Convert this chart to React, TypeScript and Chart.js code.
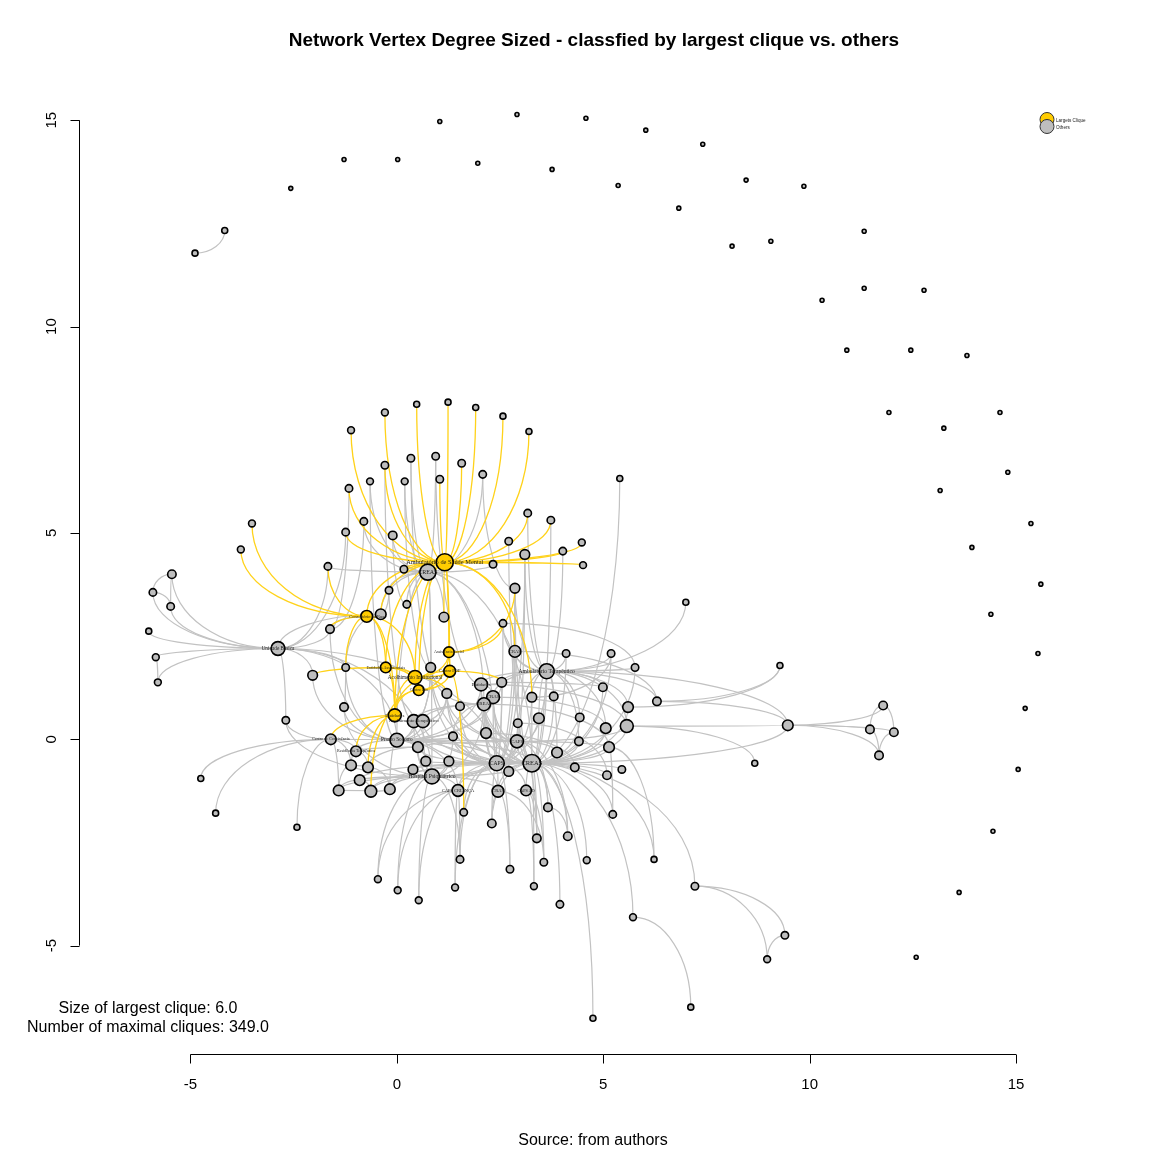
import React, { useEffect, useRef } from 'react'
import Chart, { ChartConfiguration, Plugin } from 'chart.js/auto'

// [id, x, y, degree]
type Vertex = [string, number, number, number]

const cliqueVertices: Vertex[] = [
  ['H1', 1.16, 4.29, 43], ['Y2', -0.73, 2.98, 15], ['Y3', -0.27, 1.74, 11], ['Y4', 0.44, 1.5, 24],
  ['Y5', 0.53, 1.19, 11], ['Y6', 1.26, 2.11, 11], ['Y7', 1.28, 1.65, 15], ['Y8', -0.05, 0.58, 20],
]

const fanVertices: Vertex[] = [
  ['T1', -1.11, 7.49, 2], ['T2', -0.29, 7.92, 2], ['T3', 0.48, 8.12, 1], ['T4', 1.24, 8.17, 1],
  ['T5', 1.91, 8.04, 1], ['T6', 2.57, 7.83, 1], ['T7', 3.2, 7.46, 1], ['T8', -0.29, 6.64, 3],
  ['T9', 0.34, 6.81, 3], ['T10', 0.94, 6.86, 3], ['T11', 1.57, 6.69, 3], ['T12', 2.08, 6.42, 3],
  ['T13', -0.65, 6.25, 2], ['T14', 0.19, 6.25, 2], ['T15', 1.04, 6.3, 3], ['T16', -1.16, 6.08, 3],
  ['T17', -0.8, 5.28, 3], ['T18', -1.24, 5.02, 3], ['T19', -0.1, 4.94, 5], ['T20', -1.67, 4.19, 3],
  ['T21', 0.17, 4.12, 3], ['T22', 2.33, 4.24, 3], ['T23', 3.17, 5.48, 3], ['T24', 3.73, 5.31, 3],
  ['T25', 2.71, 4.8, 3], ['T26', 3.1, 4.48, 8], ['T27', 4.02, 4.56, 3], ['T28', 4.48, 4.77, 2],
  ['T29', 4.51, 4.22, 2], ['T30', 5.4, 6.32, 1], ['L1', -3.51, 5.23, 2], ['L2', -3.78, 4.6, 2],
]

const coreVertices: Vertex[] = [
  ['H2', 0.75, 4.05, 36],
  ['M1', -0.19, 3.61, 3], ['M2', 0.24, 3.27, 3], ['M3', -0.39, 3.03, 11], ['M4', 1.14, 2.96, 8],
  ['M5', 2.57, 2.81, 3], ['M6', 2.86, 2.13, 15], ['M7', 2.86, 3.66, 8], ['M8', 4.1, 2.08, 3],
  ['M9', -1.62, 2.67, 5], ['M10', 0.82, 1.74, 8], ['M11', 3.63, 1.65, 30], ['M12', -1.24, 1.74, 3],
  ['M13', 2.04, 1.33, 20], ['M14', 2.33, 1.02, 20], ['M15', 2.54, 1.38, 8], ['M16', 1.21, 1.11, 8],
  ['M17', 2.11, 0.85, 20], ['M18', 1.53, 0.8, 5], ['M19', 3.27, 1.02, 8], ['M20', 3.8, 1.04, 5],
  ['M21', 4.99, 1.26, 5], ['M22', 5.19, 2.08, 3], ['M23', 5.77, 1.74, 3], ['M24', 6.3, 0.92, 5],
  ['M25', 5.6, 0.78, 11], ['M26', 5.57, 0.32, 20], ['M27', 4.43, 0.53, 5], ['M28', 5.06, 0.27, 11],
  ['M29', 5.14, -0.19, 11], ['M30', 4.41, -0.05, 5], ['M31', 4.31, -0.68, 5], ['M32', 5.45, -0.73, 3],
  ['M33', 5.09, -0.87, 5], ['M34', -1.28, 0.78, 5], ['M35', 0.41, 0.44, 20], ['M36', 0.63, 0.44, 20],
  ['M37', 3.44, 0.51, 11], ['M38', 2.93, 0.39, 5], ['M39', 1.36, 0.07, 5], ['M40', 2.16, 0.15, 11],
  ['M41', -1.6, 0.0, 11], ['M42', 0.0, -0.02, 24], ['M43', 2.91, -0.05, 20], ['M44', 0.51, -0.19, 11],
  ['M45', -0.99, -0.29, 11], ['M46', 3.88, -0.32, 11], ['M47', 2.42, -0.58, 30], ['M48', 3.27, -0.58, 45],
  ['M49', 0.7, -0.53, 8], ['M50', 1.26, -0.53, 8], ['M51', -1.11, -0.63, 11], ['M52', -0.7, -0.68, 11],
  ['M53', 2.71, -0.78, 8], ['M54', 0.39, -0.73, 8], ['M55', 0.85, -0.9, 30], ['M56', -0.9, -0.99, 11],
  ['M57', -1.41, -1.24, 11], ['M58', -0.63, -1.26, 15], ['M59', -0.17, -1.21, 11], ['M60', 1.48, -1.24, 15],
  ['M61', 2.45, -1.26, 15], ['M62', 3.13, -1.24, 11],
]

const bottomVertices: Vertex[] = [
  ['M63', 1.62, -1.77, 3], ['M64', 3.66, -1.65, 5], ['M65', 5.23, -1.82, 3], ['M66', 2.3, -2.04, 5],
  ['M67', 3.39, -2.4, 5], ['M68', 4.14, -2.35, 5], ['M69', 1.53, -2.91, 3], ['M70', 3.56, -2.98, 3],
  ['M71', 4.6, -2.93, 2], ['M72', 6.23, -2.91, 1], ['M73', -0.46, -3.39, 2], ['M74', 2.74, -3.15, 3],
  ['M75', 0.02, -3.66, 2], ['M76', 1.41, -3.59, 2], ['M77', 3.32, -3.56, 2], ['M78', 0.53, -3.9, 2],
  ['M79', 3.95, -4.0, 3], ['M80', 7.22, -3.56, 3], ['M81', 5.72, -4.31, 2], ['M82', 4.75, -6.76, 1],
  ['M83', 7.12, -6.49, 1], ['M84', 9.4, -4.75, 3], ['M85', 8.97, -5.33, 2],
]

const rightVertices: Vertex[] = [
  ['M86', 8.67, -0.58, 1], ['M87', 9.28, 1.79, 1], ['M88', 7.0, 3.32, 1], ['M89', 9.47, 0.34, 11],
  ['M90', 11.78, 0.82, 5], ['M91', 11.46, 0.24, 5], ['M92', 12.04, 0.17, 5], ['M93', 11.68, -0.39, 5],
]

const leftVertices: Vertex[] = [
  ['M94', -5.45, 4.0, 5], ['M95', -5.91, 3.56, 3], ['M96', -5.48, 3.22, 3], ['M97', -6.01, 2.62, 1],
  ['M98', -2.88, 2.2, 24], ['M99', -5.84, 1.99, 2], ['M100', -5.79, 1.38, 2], ['M101', -2.04, 1.55, 8],
  ['M102', -2.69, 0.46, 3], ['M103', -4.75, -0.95, 1], ['M104', -4.39, -1.79, 1], ['M105', -2.42, -2.13, 1],
]

const isolatedVertices: Vertex[] = [
  ['I1', 2.91, 15.14, 0], ['I2', 4.58, 15.05, 0], ['I3', 1.04, 14.97, 0], ['I4', 6.03, 14.76, 0],
  ['I5', 7.41, 14.42, 0], ['I6', -1.28, 14.05, 0], ['I7', 0.02, 14.05, 0], ['I8', 1.96, 13.96, 0],
  ['I9', 3.76, 13.81, 0], ['I10', -2.57, 13.35, 0], ['I11', 5.36, 13.42, 0], ['I12', 8.46, 13.55, 0],
  ['I13', 9.86, 13.4, 0], ['I14', 6.83, 12.87, 0], ['I15', 8.12, 11.95, 0], ['I16', 9.06, 12.07, 0],
  ['I17', 11.32, 12.31, 0], ['I18', 10.3, 10.64, 0], ['I19', 11.32, 10.93, 0], ['I20', 12.77, 10.88, 0],
  ['I21', 10.9, 9.43, 0], ['I22', 12.45, 9.43, 0], ['I23', 13.81, 9.3, 0], ['I24', 11.92, 7.92, 0],
  ['I25', 14.61, 7.92, 0], ['I26', 13.25, 7.54, 0], ['I27', 14.8, 6.47, 0], ['I28', 13.16, 6.03, 0],
  ['I29', 15.36, 5.23, 0], ['I30', 13.93, 4.65, 0], ['I31', 15.6, 3.76, 0], ['I32', 14.39, 3.03, 0],
  ['I33', 15.53, 2.08, 0], ['I34', 15.22, 0.75, 0], ['I35', 15.05, -0.73, 0], ['I36', 14.44, -2.23, 0],
  ['I37', 13.62, -3.71, 0], ['I38', 12.58, -5.28, 0], ['P1', -4.89, 11.78, 1], ['P2', -4.17, 12.33, 1],
]

const vertexLabels: Record<string, string> = {
  H1: 'Ambulatório de Saúde Mental', H2: 'CREAS', Y2: 'Consultório na Rua', Y3: 'Entidades Assistenciais',
  Y4: 'Acolhimento Institucional', Y5: 'Centro Dia', Y6: 'Assistência Social', Y7: 'Centro POP',
  Y8: 'Entidades', M6: 'CRAS', M11: 'Ambulatório Terapêutico', M13: 'Entidades', M14: 'CRAS',
  M17: 'CREAS', M35: 'Acolhimento Terapêutico', M41: 'Centro de Convivência', M42: 'Pronto Socorro',
  M43: 'CAPS', M45: 'Residência Terapêutica', M47: 'CAPS', M48: 'CREAS', M55: 'Hospital Psiquiátrico',
  M60: 'CAPS CRIANÇA', M61: 'CRAS', M62: 'CAPS AD', M98: 'Unidade Básica',
}

// edges: "from to"
const cliqueEdges = [
  'H1 Y2', 'H1 Y3', 'H1 Y4', 'H1 Y5', 'H1 Y6', 'H1 Y7', 'H1 Y8', 'Y2 Y3', 'Y2 Y4', 'Y2 Y8', 'Y3 Y4',
  'Y3 Y5', 'Y3 Y8', 'Y4 Y5', 'Y4 Y6', 'Y4 Y7', 'Y4 Y8', 'Y5 Y7', 'Y5 Y8', 'Y6 Y7', 'Y5 Y6', 'Y7 Y8',
]

const hubEdges = [
  'H1 T1', 'H1 T2', 'H1 T3', 'H1 T4', 'H1 T5', 'H1 T6', 'H1 T7', 'H1 T8', 'H1 T11', 'H1 T15', 'H1 T16',
  'H1 T18', 'H1 T23', 'H1 T24', 'H1 T27', 'H1 T28', 'H1 T29', 'H1 M3', 'H1 M4', 'H1 M6', 'H1 M19',
  'H1 T21', 'H1 T22', 'Y2 L1', 'Y2 L2', 'Y2 M9', 'Y2 M12', 'Y2 T20', 'Y3 M101', 'Y8 M41', 'Y8 M45',
  'Y8 M52', 'Y7 M63', 'Y7 M15', 'Y6 M7', 'Y6 M5', 'Y4 M10', 'Y4 M16', 'Y5 M58',
]

const fanEdges = [
  'H2 T9', 'H2 T10', 'H2 T12', 'H2 T13', 'H2 T14', 'H2 T19', 'H2 T20', 'H2 T21', 'H2 T17', 'H2 T22',
  'M7 T12', 'M48 T25', 'M47 T26', 'M43 T26', 'M11 T26', 'M11 T23', 'M48 T24', 'M11 T27', 'M48 T30',
  'M42 T13', 'M10 T14', 'M9 T16', 'M9 T17', 'M98 T18', 'M2 T19', 'M16 T9', 'M13 T10', 'M35 T8',
]

const coreEdges = [
  'H2 M1', 'H2 M2', 'H2 M3', 'H2 M47', 'H2 M48', 'H2 M55', 'H2 M42', 'H2 M17', 'H2 M10', 'H2 M4',
  'M3 M98', 'M3 M1', 'M3 M9', 'M3 M12',
  'M42 M35', 'M42 M36', 'M42 M44', 'M42 M49', 'M42 M55', 'M42 M47', 'M42 M48', 'M42 M43', 'M42 M17',
  'M42 M13', 'M42 M14', 'M42 M39', 'M42 M10', 'M42 M16', 'M42 M60', 'M42 M61',
  'M55 M47', 'M55 M48', 'M55 M60', 'M55 M61', 'M55 M49', 'M55 M50', 'M55 M54', 'M55 M44', 'M55 M35',
  'M55 M36', 'M55 M39', 'M55 M73', 'M55 M75', 'M55 M78', 'M55 M69', 'M55 M43', 'M55 M17',
  'M47 M43', 'M47 M60', 'M47 M61', 'M47 M63', 'M47 M66', 'M47 M69', 'M47 M74', 'M47 M39', 'M47 M40',
  'M47 M38', 'M47 M18', 'M47 M16', 'M47 M15', 'M47 M13', 'M47 M14', 'M47 M17', 'M47 M5', 'M47 M6',
  'M47 M7', 'M47 M11', 'M47 M19', 'M47 M10', 'M47 M50', 'M47 M54', 'M47 M53', 'M47 M62', 'M47 M76',
  'M47 M35', 'M47 M44', 'M47 M49', 'M47 M59', 'M47 M56',
  'M48 M11', 'M48 M43', 'M48 M47', 'M48 M37', 'M48 M46', 'M48 M53', 'M48 M62', 'M48 M61', 'M48 M64',
  'M48 M66', 'M48 M67', 'M48 M68', 'M48 M70', 'M48 M71', 'M48 M77', 'M48 M79', 'M48 M81', 'M48 M82',
  'M48 M80', 'M48 M30', 'M48 M31', 'M48 M28', 'M48 M29', 'M48 M26', 'M48 M25', 'M48 M21', 'M48 M22',
  'M48 M23', 'M48 M8', 'M48 M7', 'M48 M6', 'M48 M13', 'M48 M14', 'M48 M17', 'M48 M19', 'M48 M20',
  'M48 M60', 'M48 M65', 'M48 M72', 'M48 M32', 'M48 M33', 'M48 M27', 'M48 M40', 'M48 M38',
  'M48 M36', 'M48 M10', 'M48 M16', 'M48 M39', 'M48 M54', 'M48 M50', 'M48 M58',
  'M11 M8', 'M11 M22', 'M11 M23', 'M11 M21', 'M11 M24', 'M11 M25', 'M11 M26', 'M11 M27', 'M11 M28',
  'M11 M37', 'M11 M43', 'M11 M13', 'M11 M14', 'M11 M15', 'M11 M19', 'M11 M20', 'M11 M6', 'M11 M7',
  'M11 M5', 'M11 M88', 'M11 M46', 'M11 M30', 'M11 M89',
  'M43 M13', 'M43 M14', 'M43 M17', 'M43 M37', 'M43 M38', 'M43 M40', 'M43 M46', 'M43 M53', 'M43 M64',
  'M43 M67', 'M43 M68', 'M43 M26', 'M43 M29', 'M43 M18', 'M43 M16', 'M43 M44',
  'M17 M13', 'M17 M14', 'M17 M18', 'M17 M16', 'M17 M35', 'M17 M36', 'M17 M39', 'M17 M40', 'M17 M29',
  'M13 M14', 'M13 M15', 'M14 M15', 'M35 M36', 'M35 M10', 'M36 M16', 'M13 M26', 'M14 M28', 'M40 M31',
  'M38 M33', 'M15 M21', 'M19 M22', 'M5 M23', 'M6 M24',
]

const outerEdges = [
  'M60 M73', 'M60 M75', 'M60 M76', 'M60 M69', 'M60 M78', 'M61 M74', 'M61 M66', 'M61 M70', 'M62 M67',
  'M62 M77', 'M62 M70', 'M64 M68', 'M29 M65', 'M29 M72', 'M80 M84', 'M80 M85', 'M84 M85', 'M81 M83',
  'M89 M90', 'M89 M91', 'M89 M92', 'M89 M93', 'M26 M89', 'M24 M89', 'M48 M89', 'M90 M91', 'M91 M93',
  'M90 M92', 'M92 M93', 'M25 M87', 'M24 M87', 'M26 M86',
  'M98 M94', 'M98 M95', 'M98 M96', 'M98 M97', 'M98 M99', 'M98 M100', 'M98 M101', 'M98 M102', 'M98 M9',
  'M98 M42', 'M98 M55', 'M98 M12', 'M98 T20', 'M98 M47', 'M94 M95', 'M94 M96', 'M95 M96', 'M99 M100',
  'M41 M103', 'M41 M104', 'M41 M105', 'M41 M45', 'M41 M51', 'M41 M57', 'M41 M42', 'M41 M102',
  'M42 M45', 'M45 M51', 'M45 M52', 'M51 M52', 'M51 M57', 'M56 M57', 'M56 M58', 'M57 M58', 'M58 M59',
  'M52 M59', 'M42 M59', 'M42 M34', 'M34 M12', 'M55 M56', 'M55 M58', 'M55 M59', 'M44 M45', 'M44 M52',
  'M55 M57', 'M55 M34', 'M42 M101', 'M55 M102', 'M42 M12', 'M42 M9',
  'P1 P2',
]

const xTicks = [-5, 0, 5, 10, 15]
const yTicks = [-5, 0, 5, 10, 15]
const largestCliqueSize = 6
const maximalCliqueCount = 349

const TITLE = 'Network Vertex Degree Sized - classfied by largest clique vs. others'
const SANS = "'Liberation Sans', Arial, Helvetica, sans-serif"
const SERIF = "'Liberation Serif', 'Times New Roman', serif"
const CLIQUE_FILL = '#FFCC00'
const OTHER_FILL = '#BEBEBE'
const EDGE_GREY = '#C2C2C2'
const EDGE_YELLOW = '#FFD21A'
const CURVE = 0.55

const allVertices = [
  ...cliqueVertices, ...fanVertices, ...coreVertices, ...bottomVertices,
  ...rightVertices, ...leftVertices, ...isolatedVertices,
]
const cliqueIds = new Set(cliqueVertices.map((v) => v[0]))
const vertexById = new Map(allVertices.map((v) => [v[0], v]))
const allEdges = [...cliqueEdges, ...hubEdges, ...fanEdges, ...coreEdges, ...outerEdges]
  .map((e) => e.split(' '))
  .filter(([a, b]) => vertexById.has(a) && vertexById.has(b))

const radiusOf = (degree: number) => (degree === 0 ? 2 : 2 + Math.sqrt(degree))

const toPoint = (v: Vertex) => ({ x: v[1], y: v[2], r: radiusOf(v[3]) })

const edgesPlugin: Plugin<'scatter'> = {
  id: 'edges',
  beforeDatasetsDraw(chart) {
    const { ctx } = chart
    const xs = chart.scales.x
    const ys = chart.scales.y
    const pass = (yellow: boolean) => {
      ctx.save()
      ctx.strokeStyle = yellow ? EDGE_YELLOW : EDGE_GREY
      ctx.lineWidth = yellow ? 1.3 : 1.2
      for (const [a, b] of allEdges) {
        if ((cliqueIds.has(a) || cliqueIds.has(b)) !== yellow) continue
        const va = vertexById.get(a)!
        const vb = vertexById.get(b)!
        const x1 = xs.getPixelForValue(va[1])
        const y1 = ys.getPixelForValue(va[2])
        const x2 = xs.getPixelForValue(vb[1])
        const y2 = ys.getPixelForValue(vb[2])
        ctx.beginPath()
        ctx.moveTo(x1, y1)
        ctx.bezierCurveTo(x1 + (x2 - x1) * CURVE, y1, x2, y2 - (y2 - y1) * CURVE, x2, y2)
        ctx.stroke()
      }
      ctx.restore()
    }
    pass(false)
    pass(true)
  },
}

const labelsPlugin: Plugin<'scatter'> = {
  id: 'vertexLabels',
  afterDatasetsDraw(chart) {
    const { ctx } = chart
    ctx.save()
    ctx.fillStyle = '#1a1a1a'
    ctx.textAlign = 'center'
    ctx.textBaseline = 'middle'
    for (const v of allVertices) {
      const text = vertexLabels[v[0]]
      if (!text) continue
      ctx.font = `${(1.8 + 0.7 * Math.sqrt(v[3])).toFixed(1)}px ${SERIF}`
      ctx.fillText(text, chart.scales.x.getPixelForValue(v[1]), chart.scales.y.getPixelForValue(v[2]))
    }
    ctx.restore()
  },
}

const framePlugin: Plugin<'scatter'> = {
  id: 'frame',
  afterDraw(chart) {
    const { ctx, chartArea } = chart
    const xs = chart.scales.x
    const ys = chart.scales.y
    ctx.save()
    ctx.strokeStyle = '#000'
    ctx.fillStyle = '#000'
    ctx.lineWidth = 1

    // bottom axis
    const by = Math.round(chartArea.bottom) - 0.5
    ctx.beginPath()
    ctx.moveTo(xs.getPixelForValue(xTicks[0]), by)
    ctx.lineTo(xs.getPixelForValue(xTicks[xTicks.length - 1]), by)
    for (const t of xTicks) {
      const px = Math.round(xs.getPixelForValue(t)) + 0.5
      ctx.moveTo(px, by)
      ctx.lineTo(px, by + 9)
    }
    ctx.stroke()
    ctx.font = `15px ${SANS}`
    ctx.textAlign = 'center'
    ctx.textBaseline = 'middle'
    for (const t of xTicks) ctx.fillText(String(t), xs.getPixelForValue(t), by + 30)

    // left axis
    const lx = Math.round(chartArea.left) + 0.5
    ctx.beginPath()
    ctx.moveTo(lx, ys.getPixelForValue(yTicks[0]))
    ctx.lineTo(lx, ys.getPixelForValue(yTicks[yTicks.length - 1]))
    for (const t of yTicks) {
      const py = Math.round(ys.getPixelForValue(t)) + 0.5
      ctx.moveTo(lx, py)
      ctx.lineTo(lx - 9, py)
    }
    ctx.stroke()
    for (const t of yTicks) {
      ctx.save()
      ctx.translate(lx - 28, ys.getPixelForValue(t))
      ctx.rotate(-Math.PI / 2)
      ctx.fillText(String(t), 0, 0)
      ctx.restore()
    }

    // title and notes
    ctx.font = `bold 19px ${SANS}`
    ctx.fillText(TITLE, 594, 41)
    ctx.font = `16px ${SANS}`
    ctx.fillText(`Size of largest clique: ${largestCliqueSize.toFixed(1)}`, 148, 1009)
    ctx.fillText(`Number of maximal cliques: ${maximalCliqueCount.toFixed(1)}`, 148, 1028)
    ctx.fillText('Source: from authors', 593, 1141)

    // legend
    const legend = [
      { fill: CLIQUE_FILL, text: 'Largets Clique', y: 119.5 },
      { fill: OTHER_FILL, text: 'Others', y: 126.5 },
    ]
    for (const item of legend) {
      ctx.beginPath()
      ctx.arc(1047, item.y, 7, 0, Math.PI * 2)
      ctx.fillStyle = item.fill
      ctx.fill()
      ctx.lineWidth = 1
      ctx.strokeStyle = '#333'
      ctx.stroke()
    }
    ctx.fillStyle = '#222'
    ctx.font = `4.6px ${SANS}`
    ctx.textAlign = 'left'
    for (const item of legend) ctx.fillText(item.text, 1056, item.y + 1)
    ctx.restore()
  },
}

const NetworkChart: React.FC = () => {
  const chartRef = useRef<HTMLCanvasElement | null>(null)
  const chartInstance = useRef<Chart | null>(null)

  useEffect(() => {
    if (!chartRef.current) return
    if (chartInstance.current) chartInstance.current.destroy()
    const ctx = chartRef.current.getContext('2d')
    if (!ctx) return

    const others = allVertices.filter((v) => !cliqueIds.has(v[0])).map(toPoint)
    const clique = cliqueVertices.map(toPoint)

    const config: ChartConfiguration<'scatter'> = {
      type: 'scatter',
      data: {
        datasets: [
          {
            label: 'Others',
            data: others,
            backgroundColor: OTHER_FILL,
            borderColor: '#000',
            borderWidth: 1.6,
            pointRadius: (c: any) => (c.raw ? c.raw.r : 3),
          },
          {
            label: 'Largets Clique',
            data: clique,
            backgroundColor: CLIQUE_FILL,
            borderColor: '#000',
            borderWidth: 1.6,
            pointRadius: (c: any) => (c.raw ? c.raw.r : 3),
          },
        ],
      },
      options: {
        animation: false,
        responsive: true,
        maintainAspectRatio: false,
        events: [],
        layout: { padding: { left: 79, right: 74, top: 79, bottom: 97 } },
        scales: {
          x: { type: 'linear', min: -7.7, max: 16.5, display: false },
          y: { type: 'linear', min: -7.65, max: 16, display: false },
        },
        plugins: {
          legend: { display: false },
          tooltip: { enabled: false },
        },
      },
      plugins: [edgesPlugin, labelsPlugin, framePlugin],
    }

    chartInstance.current = new Chart(ctx, config)

    return () => {
      if (chartInstance.current) {
        chartInstance.current.destroy()
        chartInstance.current = null
      }
    }
  }, [])

  return (
    <div style={{ position: 'fixed', left: 0, top: 0, width: 1152, height: 1152, background: '#fff' }}>
      <canvas ref={chartRef} />
    </div>
  )
}

export default function App() {
  return <NetworkChart />
}
